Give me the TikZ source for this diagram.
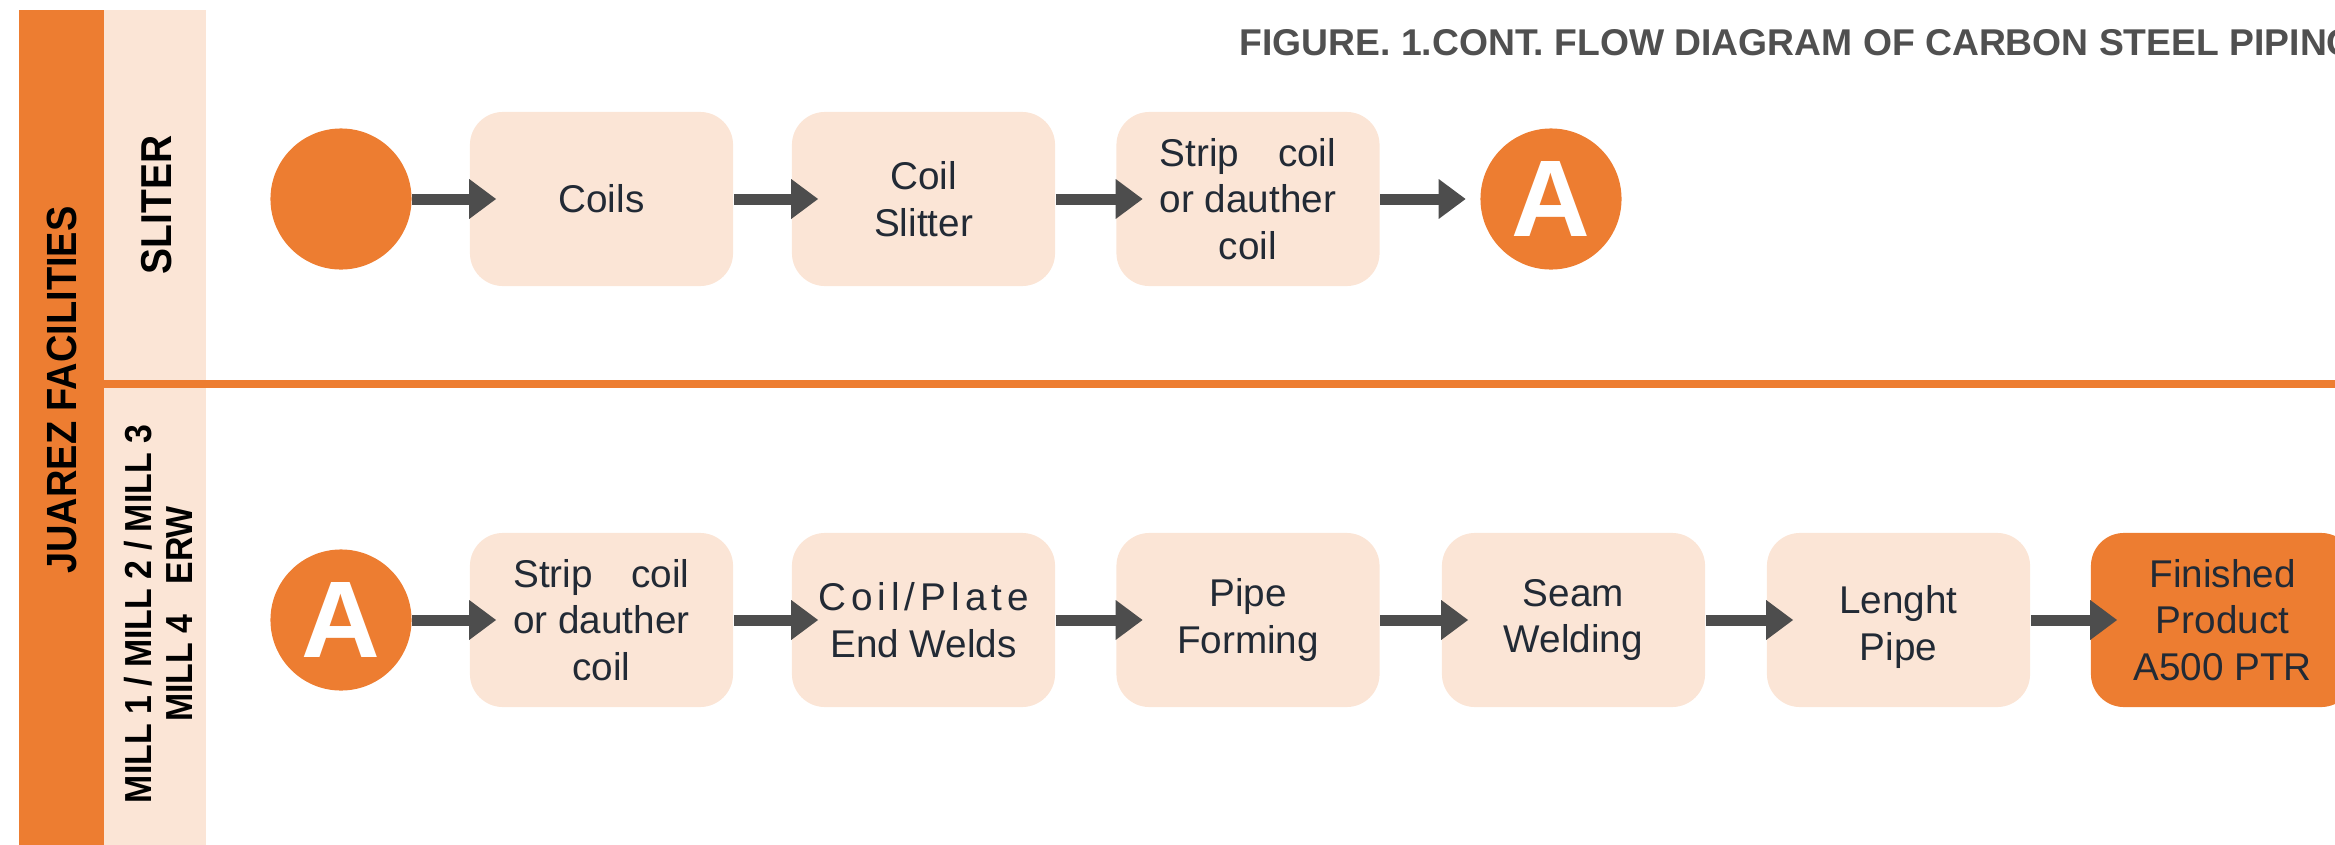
\documentclass[tikz,border=0pt]{standalone}
\usepackage{fontspec}
\setmainfont{Liberation Sans}
\newfontfamily\lanefont[FakeStretch=0.9]{Liberation Sans}
\usepackage{tikz}
\usetikzlibrary{arrows.meta,shapes}
\definecolor{orng}{HTML}{ED7D31}
\definecolor{peach}{HTML}{FBE5D6}
\definecolor{arrowgray}{HTML}{4D4D4D}
\definecolor{ink}{HTML}{222A35}
\definecolor{titlegray}{HTML}{505050}
\pgfdeclarelayer{edgelayer}
\pgfdeclarelayer{nodelayer}
\pgfsetlayers{nodelayer,edgelayer,main}
\tikzstyle{process}=[rectangle,rounded corners=0.33cm,fill=peach,text=ink,minimum width=2.63cm,minimum height=1.74cm,inner sep=0pt,align=center,font=\fontsize{11}{13.3}\selectfont]
\tikzstyle{product}=[process,fill=orng]
\tikzstyle{terminal}=[circle,fill=orng,minimum size=1.41cm,inner sep=0pt]
\tikzstyle{connector}=[terminal,text=white,font=\bfseries\fontsize{31}{31}\selectfont]
\tikzstyle{flow}=[-{Triangle[length=0.27cm,width=0.38cm]},draw=arrowgray,fill=arrowgray,line width=0.11cm]
\tikzstyle{lane}=[rotate=90,align=center,inner sep=0pt,font=\lanefont\bfseries\fontsize{12}{13}\selectfont]
\tikzstyle{heading}=[anchor=base west,inner sep=0pt,text=titlegray,font=\bfseries\fontsize{10.6}{12}\selectfont]

\begin{document}
\begin{tikzpicture}[x=0.01cm,y=-0.01cm]
	\useasboundingbox (0,0) rectangle (2335,845);
	\begin{pgfonlayer}{nodelayer}
		% swimlane bands
		\fill [orng] (19,10) rectangle (104,845);
		\fill [peach] (104,10) rectangle (206,845);
		\fill [orng] (104,380) rectangle (2335,388);

		\node [style=lane] (juarez) at (62,390) {JUAREZ FACILITIES};
		\node [style=lane,font=\lanefont\bfseries\fontsize{12.3}{13}\selectfont] (sliter) at (157,205) {SLITER};
		\node [style=lane,font=\lanefont\bfseries\fontsize{10.7}{11.7}\selectfont] (mills) at (158,614) {MILL 1 / MILL 2 / MILL 3\\MILL 4\hspace{0.3cm}ERW};

		\node [style=heading] (title) at (1239,55) {FIGURE. 1.CONT. FLOW DIAGRAM OF CARBON STEEL PIPING};

		% sliter lane
		\node [style=terminal] (start) at (341,199) {};
		\node [style=process] (coils) at (601.5,199) {Coils};
		\node [style=process] (slitter) at (923.5,199) {Coil\\Slitter};
		\node [style=process] (strip1) at (1248,199) {Strip\hspace{1em}coil\\or dauther\\coil};
		\node [style=connector] (A1) at (1551,199) {A};

		% mill lane
		\node [style=connector] (A2) at (341,620) {A};
		\node [style=process] (strip2) at (601.5,620) {Strip\hspace{1em}coil\\or dauther\\coil};
		\node [style=process] (welds) at (923.5,620) {{\addfontfeature{LetterSpace=13}Coil/Plate}\\End Welds};
		\node [style=process] (forming) at (1248,620) {Pipe\\Forming};
		\node [style=process] (seam) at (1573.5,620) {Seam\\Welding};
		\node [style=process] (length) at (1898.5,620) {\rule{0pt}{12pt}Lenght\\Pipe};
		\node [style=product] (finished) at (2222.5,620) {Finished\\Product\\A500 PTR};
	\end{pgfonlayer}
	\begin{pgfonlayer}{edgelayer}
		\draw [style=flow] (start) to ([xshift=0.27cm]coils.west);
		\draw [style=flow] (coils.east) to ([xshift=0.27cm]slitter.west);
		\draw [style=flow] (slitter.east) to ([xshift=0.27cm]strip1.west);
		\draw [style=flow] (strip1.east) to ([xshift=-0.14cm]A1.west);

		\draw [style=flow] (A2) to ([xshift=0.27cm]strip2.west);
		\draw [style=flow] (strip2.east) to ([xshift=0.27cm]welds.west);
		\draw [style=flow] (welds.east) to ([xshift=0.27cm]forming.west);
		\draw [style=flow] (forming.east) to ([xshift=0.27cm]seam.west);
		\draw [style=flow] (seam.east) to ([xshift=0.27cm]length.west);
		\draw [style=flow] (length.east) to ([xshift=0.27cm]finished.west);
	\end{pgfonlayer}
\end{tikzpicture}
\end{document}
